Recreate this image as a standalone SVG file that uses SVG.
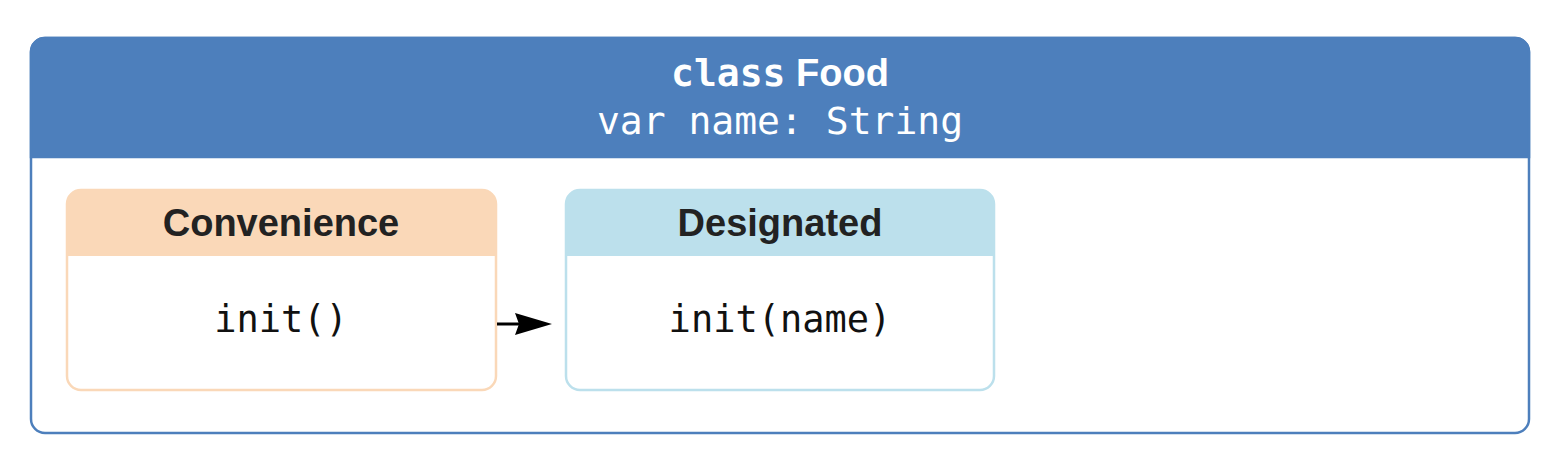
<svg xmlns="http://www.w3.org/2000/svg" width="1542" height="458" viewBox="0 0 1542 458">
<defs>
<style>
.mono{font-family:"DejaVu Sans Mono","Liberation Mono",monospace;}
.sans{font-family:"Liberation Sans",Arial,sans-serif;}
.hd{font-size:38px;font-weight:bold;fill:#222;text-anchor:middle;}
.code{font-size:37px;fill:#111;text-anchor:middle;}
</style>
</defs>
<rect width="1542" height="458" fill="#fff"/>
<g id="food">
<rect x="31" y="38" width="1498" height="395" rx="14" fill="#fff" stroke="#4D7FBC" stroke-width="2.5"/>
<path d="M31,157 V52 a14,14 0 0 1 14,-14 H1515 a14,14 0 0 1 14,14 V157 Z" fill="#4D7FBC" stroke="#4D7FBC" stroke-width="2.5"/>
<text x="780" y="86" text-anchor="middle" fill="#fff" font-size="38" font-weight="bold"><tspan class="mono">class</tspan><tspan class="sans"> Food</tspan></text>
<text x="780" y="134" class="mono" text-anchor="middle" fill="#fff" font-size="38">var name: String</text>
</g>
<g id="convenience">
<rect x="67" y="190" width="429" height="200" rx="14" fill="#fff" stroke="#FAD8B8" stroke-width="2.5"/>
<path d="M67,256 V204 a14,14 0 0 1 14,-14 H482 a14,14 0 0 1 14,14 V256 Z" fill="#FAD8B8"/>
<text x="281" y="236" class="sans hd">Convenience</text>
<text x="281" y="332" class="mono code">init()</text>
</g>
<g id="designated">
<rect x="566" y="190" width="428" height="200" rx="14" fill="#fff" stroke="#BCE0EC" stroke-width="2.5"/>
<path d="M566,256 V204 a14,14 0 0 1 14,-14 H980 a14,14 0 0 1 14,14 V256 Z" fill="#BCE0EC"/>
<text x="780" y="236" class="sans hd">Designated</text>
<text x="780" y="332" class="mono code">init(name)</text>
</g>
<g id="connectors">
<line x1="497" y1="324" x2="520" y2="324" stroke="#000" stroke-width="3"/>
<polygon points="515,313 552,324 515,335 519,324" fill="#000"/>
</g>
</svg>
